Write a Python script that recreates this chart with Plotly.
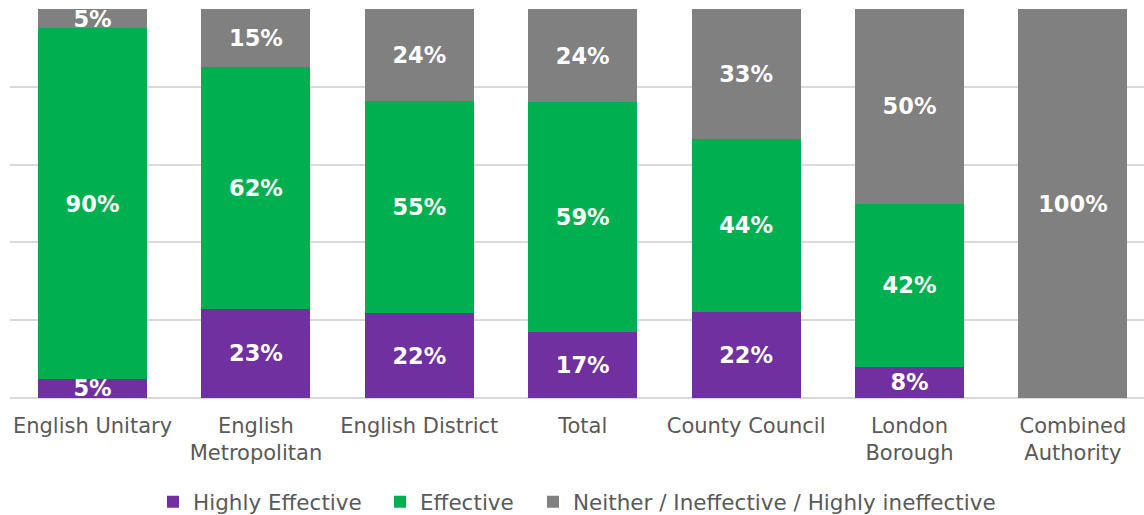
import plotly.graph_objects as go

categories = ["English Unitary", "English<br>Metropolitan", "English District", "Total",
              "County Council", "London<br>Borough", "Combined<br>Authority"]
highly_effective = [5, 23, 22, 17, 22, 8, 0]
effective = [90, 62, 55, 59, 44, 42, 0]
neither_ineffective = [5, 15, 24, 24, 33, 50, 100]

series = [
    ("Highly Effective", highly_effective, "#7030A0"),
    ("Effective", effective, "#00B050"),
    ("Neither / Ineffective / Highly ineffective", neither_ineffective, "#808080"),
]

FONT = "DejaVu Sans, Verdana, sans-serif"
LABEL_SIZE = 22.5
TEXT_COLOR = "#595959"

# plot area spans x = 10 .. 1144 px, legend entries placed by pixel
PLOT_LEFT, PLOT_WIDTH = 10, 1134
legend_text_px = [193, 420, 573]
legend_names = ["legend", "legend2", "legend3"]

fig = go.Figure()
for (name, vals, color), lg in zip(series, legend_names):
    fig.add_trace(go.Bar(
        x=categories,
        y=vals,
        name=name,
        legend=lg,
        marker=dict(color=color, line=dict(width=0)),
        text=[f"{v}%" if v > 0 else "" for v in vals],
        textposition="inside",
        insidetextanchor="middle",
        textfont=dict(family=FONT, size=LABEL_SIZE, color="white", weight="bold"),
        hoverinfo="skip",
        width=0.667,
    ))

legend_layout = {}
for lg, px in zip(legend_names, legend_text_px):
    legend_layout[lg] = dict(
        orientation="h",
        x=(px - 40 - PLOT_LEFT) / PLOT_WIDTH, xanchor="left",
        y=-0.267, yanchor="middle",
        font=dict(family=FONT, size=21.5, color=TEXT_COLOR),
        bgcolor="rgba(0,0,0,0)",
    )

fig.update_layout(
    barmode="stack",
    barnorm="percent",
    width=1144,
    height=515,
    margin=dict(l=PLOT_LEFT, r=0, t=9, b=117, autoexpand=False),
    paper_bgcolor="white",
    plot_bgcolor="white",
    font=dict(family=FONT, size=21, color=TEXT_COLOR),
    uniformtext=dict(minsize=LABEL_SIZE, mode="show"),
    showlegend=True,
    xaxis=dict(
        range=[-0.505, 6.435],
        showgrid=False,
        showline=False,
        ticks="",
        automargin=False,
        ticklabelstandoff=13,
        tickfont=dict(family=FONT, size=21, color=TEXT_COLOR),
    ),
    yaxis=dict(
        range=[0, 100],
        dtick=20,
        showgrid=True,
        gridcolor="#D9D9D9",
        gridwidth=1.5,
        zeroline=True,
        zerolinecolor="#D9D9D9",
        zerolinewidth=1.5,
        showticklabels=False,
        ticks="",
        automargin=False,
    ),
    **legend_layout,
)

fig.write_html("out.html")
